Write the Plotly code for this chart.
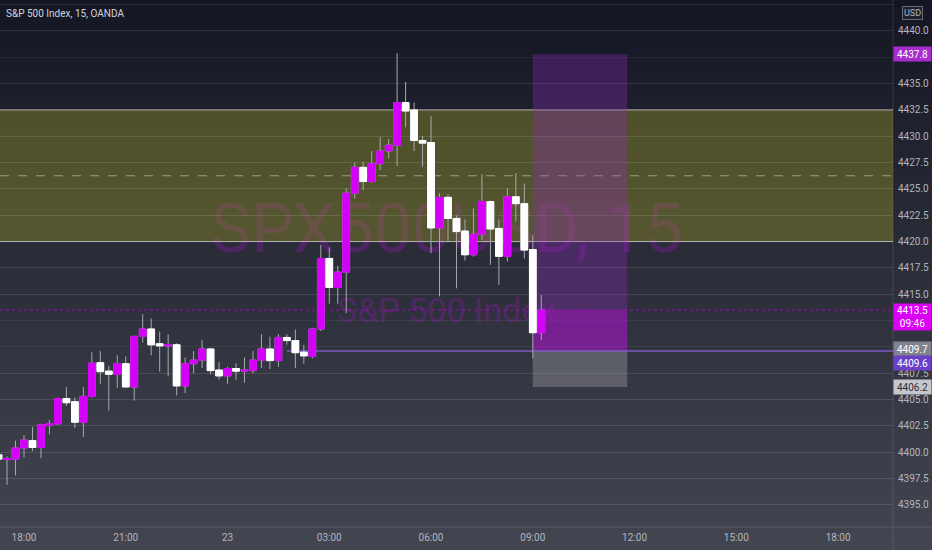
import plotly.graph_objects as go
import pandas as pd

# ---------------- data ----------------
times = pd.date_range("2021-07-22 17:15", periods=65, freq="15min")
opens = [4399.75, 4399.3, 4399.35, 4400.4, 4401.1, 4400.45, 4402.55, 4402.7, 4405.1, 4404.8,
         4402.85, 4405.3, 4408.5, 4407.7, 4407.4, 4408.4, 4406.2, 4411.0, 4411.7, 4410.3,
         4410.1, 4410.2, 4406.3, 4408.4, 4408.75, 4409.8, 4407.8, 4407.25, 4407.95, 4407.7,
         4407.75, 4408.75, 4409.8, 4408.7, 4410.9, 4410.6, 4409.5, 4409.1, 4411.7, 4418.4,
         4415.65, 4417.1, 4424.6, 4427.05, 4425.7, 4427.4, 4428.6, 4429.15, 4433.2, 4432.5,
         4429.6, 4429.4, 4421.3, 4424.2, 4422.2, 4421.0, 4418.75, 4420.7, 4423.8, 4421.25,
         4418.6, 4424.25, 4423.6, 4419.25, 4411.35]
highs = [4400.1, 4399.6, 4401.1, 4401.6, 4402.4, 4402.7, 4403.05, 4405.2, 4406.2, 4405.2,
         4406.2, 4409.5, 4409.6, 4408.2, 4409.2, 4409.1, 4411.05, 4413.1, 4412.7, 4411.45,
         4411.2, 4410.35, 4409.0, 4409.6, 4410.65, 4409.9, 4408.55, 4408.1, 4408.45, 4409.0,
         4409.6, 4411.2, 4410.97, 4411.2, 4411.2, 4411.65, 4410.2, 4411.8, 4419.7, 4419.45,
         4417.7, 4425.06, 4427.5, 4427.6, 4428.6, 4429.9, 4429.74, 4437.9, 4435.16, 4433.2,
         4430.03, 4431.93, 4424.6, 4424.5, 4422.5, 4422.1, 4423.16, 4426.4, 4423.9, 4422.1,
         4425.06, 4426.5, 4425.5, 4420.6, 4414.93]
lows = [4399.1, 4396.9, 4397.8, 4399.5, 4400.1, 4399.45, 4401.7, 4402.6, 4404.4, 4402.3,
        4401.45, 4405.2, 4406.5, 4403.95, 4406.1, 4406.15, 4404.9, 4410.4, 4409.2, 4407.65,
        4407.2, 4405.4, 4405.6, 4407.5, 4408.0, 4407.4, 4406.9, 4406.5, 4406.85, 4406.6,
        4407.5, 4408.0, 4407.9, 4408.1, 4410.2, 4408.0, 4408.4, 4408.9, 4411.5, 4414.1,
        4414.1, 4413.2, 4424.1, 4424.9, 4425.6, 4426.8, 4427.9, 4427.18, 4430.85, 4428.6,
        4427.1, 4418.9, 4414.8, 4420.0, 4415.56, 4418.2, 4418.57, 4420.15, 4417.8, 4415.9,
        4418.1, 4421.9, 4418.4, 4408.9, 4410.66]
closes = [4399.35, 4399.4, 4400.4, 4401.15, 4400.45, 4402.6, 4402.7, 4405.1, 4404.7, 4402.85,
          4405.3, 4408.45, 4407.65, 4407.4, 4408.4, 4406.2, 4411.0, 4411.7, 4410.2, 4410.1,
          4410.2, 4406.3, 4408.4, 4408.75, 4409.8, 4407.75, 4407.25, 4407.95, 4407.7, 4407.8,
          4408.75, 4409.8, 4408.7, 4410.9, 4410.6, 4409.45, 4409.15, 4411.7, 4418.4, 4415.65,
          4417.1, 4424.6, 4427.05, 4425.7, 4427.4, 4428.6, 4429.15, 4433.2, 4432.4, 4429.6,
          4429.35, 4421.3, 4424.2, 4422.2, 4420.95, 4418.75, 4420.7, 4423.8, 4421.2, 4418.6,
          4424.25, 4423.6, 4419.2, 4411.35, 4413.5]

x_tickvals = ["2021-07-22 18:00", "2021-07-22 21:00", "2021-07-23 00:00", "2021-07-23 03:00",
              "2021-07-23 06:00", "2021-07-23 09:00", "2021-07-23 12:00", "2021-07-23 15:00",
              "2021-07-23 18:00"]
x_ticktext = ["18:00", "21:00", "23", "03:00", "06:00", "09:00", "12:00", "15:00", "18:00"]
# price-scale labels that stay visible (the others sit under the price tags)
y_tickvals = [4395.0, 4397.5, 4400.0, 4402.5, 4405.0, 4407.5, 4415.0, 4417.5, 4420.0,
              4422.5, 4425.0, 4427.5, 4430.0, 4432.5, 4435.0, 4440.0, 4442.5]

zone_low, zone_high = 4420.0, 4432.5
zone_mid = 4426.25
pos_start, pos_end = "2021-07-23 09:00", "2021-07-23 11:47"
pos_target, pos_entry, pos_stop = 4437.8, 4409.7, 4406.2
hline_start, hline_end, hline_level = "2021-07-23 01:45", "2021-07-23 19:40", 4409.6
last_price, countdown = 4413.5, "09:46"

title_text = "S&P 500 Index, 15, OANDA"
watermark_big = "SPX500USD, 15"
watermark_small = "S&P 500 Index"

# ---------------- style ----------------
UP = "#d500f9"
DOWN = "#ffffff"
WICK = "#a7a9b0"
FONT = "Roboto, sans-serif"
TXT = "#b2b5be"

body_high = [max(o, c) for o, c in zip(opens, closes)]
body_low = [min(o, c) for o, c in zip(opens, closes)]

fig = go.Figure()
fig.add_trace(go.Candlestick(
    x=times, open=opens, high=highs, low=lows, close=closes,
    increasing=dict(line=dict(color=WICK, width=1), fillcolor=UP),
    decreasing=dict(line=dict(color=WICK, width=1), fillcolor=DOWN),
    whiskerwidth=0, hoverinfo="skip", showlegend=False))
fig.add_trace(go.Candlestick(
    x=times, open=opens, high=body_high, low=body_low, close=closes,
    increasing=dict(line=dict(color=UP, width=1), fillcolor=UP),
    decreasing=dict(line=dict(color=DOWN, width=1), fillcolor=DOWN),
    whiskerwidth=0, showlegend=False))

shapes = []
# background gradient
N = 60
top_c = (20, 23, 35)
bot_c = (67, 69, 80)
y_bot = -23 / 527
for i in range(N):
    f = (i + 0.5) / N
    col = tuple(int(round(top_c[k] + (bot_c[k] - top_c[k]) * f)) for k in range(3))
    y1 = 1 - (1 - y_bot) * i / N
    y0 = 1 - (1 - y_bot) * (i + 1) / N
    shapes.append(dict(type="rect", xref="paper", yref="paper", x0=0, x1=932 / 893,
                       y0=y0 - 0.001, y1=y1 + 0.001, line=dict(width=0),
                       fillcolor="rgb(%d,%d,%d)" % col, layer="below"))

# watermark (behind candles)
shapes.append(dict(type="rect", xref="paper", yref="paper", x0=0.2, x1=0.8, y0=0.5, y1=0.65,
                   line=dict(width=0), fillcolor="rgba(0,0,0,0)", layer="between",
                   label=dict(text=watermark_big, textposition="middle center",
                              font=dict(family=FONT, size=68, color="rgba(175,20,215,0.27)"))))
shapes.append(dict(type="rect", xref="paper", yref="paper", x0=0.3, x1=0.7, y0=0.38, y1=0.45,
                   line=dict(width=0), fillcolor="rgba(0,0,0,0)", layer="between",
                   label=dict(text=watermark_small, textposition="middle center",
                              font=dict(family=FONT, size=34, color="rgba(175,20,215,0.27)"))))

# olive zone
shapes.append(dict(type="rect", xref="paper", yref="y", x0=0, x1=1, y0=zone_low, y1=zone_high,
                   line=dict(width=0), fillcolor="rgba(140,140,40,0.45)", layer="between"))
for lvl in (zone_low, zone_high):
    shapes.append(dict(type="line", xref="paper", yref="y", x0=0, x1=1, y0=lvl, y1=lvl,
                       line=dict(color="rgba(205,205,200,0.75)", width=1), layer="between"))
shapes.append(dict(type="line", xref="paper", yref="y", x0=0, x1=1, y0=zone_mid, y1=zone_mid,
                   line=dict(color="rgba(205,205,200,0.6)", width=1, dash="dash"), layer="between"))

# position box
shapes.append(dict(type="rect", xref="x", yref="y", x0=pos_start, x1=pos_end,
                   y0=pos_entry, y1=pos_target, line=dict(width=0),
                   fillcolor="rgba(150,40,200,0.30)", layer="between"))
shapes.append(dict(type="rect", xref="x", yref="y", x0=pos_start, x1=pos_end,
                   y0=pos_stop, y1=pos_entry, line=dict(width=0),
                   fillcolor="rgba(200,200,210,0.28)", layer="between"))
shapes.append(dict(type="rect", xref="x", yref="y", x0=pos_start, x1=pos_end,
                   y0=pos_entry, y1=last_price, line=dict(width=0),
                   fillcolor="rgba(210,0,240,0.30)", layer="between"))

# horizontal ray
shapes.append(dict(type="line", xref="x", yref="y", x0=hline_start, x1=hline_end,
                   y0=hline_level, y1=hline_level,
                   line=dict(color="#7e57c2", width=1.5), layer="between"))
# last price dotted
shapes.append(dict(type="line", xref="paper", yref="y", x0=0, x1=1, y0=last_price, y1=last_price,
                   line=dict(color="rgba(213,0,249,0.55)", width=1, dash="dot"), layer="between"))

# axis separators
shapes.append(dict(type="line", xref="paper", yref="paper", x0=1, x1=1, y0=y_bot, y1=1,
                   line=dict(color="rgba(255,255,255,0.12)", width=1), layer="above"))
shapes.append(dict(type="line", xref="paper", yref="paper", x0=0, x1=932 / 893, y0=0, y1=0,
                   line=dict(color="rgba(255,255,255,0.12)", width=1), layer="above"))

annotations = []
annotations.append(dict(xref="paper", yref="paper", x=0, y=1, xanchor="left", yanchor="top",
                        xshift=4, yshift=-6, text=title_text, showarrow=False,
                        font=dict(family=FONT, size=10, color="#d1d4dc")))
annotations.append(dict(xref="paper", yref="paper", x=1, y=1, xanchor="left", yanchor="top",
                        xshift=9, yshift=-6, text="USD", showarrow=False, bgcolor="#1e2230",
                        bordercolor="rgba(255,255,255,0.35)", borderwidth=1, borderpad=1,
                        font=dict(family=FONT, size=9, color=TXT)))


def plabel(price, text, bg, fg, yanchor="middle", yshift=0, h=12):
    annotations.append(dict(xref="paper", yref="y", x=1, y=price, xanchor="left",
                            yanchor=yanchor, yshift=yshift, xshift=0, text=text,
                            showarrow=False, bgcolor=bg, borderpad=1, width=35, height=h,
                            align="center", font=dict(family=FONT, size=10, color=fg)))


plabel(pos_target, "%.1f" % pos_target, "#a82ccc", "#ffffff")
plabel(last_price, "%.1f<br>%s" % (last_price, countdown), "#dc00f5", "#ffffff",
       yanchor="top", yshift=7, h=24)
plabel(pos_entry, "%.1f" % pos_entry, "#80838e", "#ffffff", yshift=1)
plabel(hline_level, "%.1f" % hline_level, "#6a40c8", "#ffffff", yshift=-12)
plabel(pos_stop, "%.1f" % pos_stop, "#c6c7cd", "#2a2e39")

fig.update_layout(
    width=932, height=550,
    margin=dict(l=0, r=39, t=0, b=23),
    paper_bgcolor="rgb(67,69,80)", plot_bgcolor="rgba(0,0,0,0)",
    shapes=shapes, annotations=annotations,
    showlegend=False, boxmode="overlay", boxgap=0.12, boxgroupgap=0.1,
    hovermode=False,
    xaxis=dict(range=["2021-07-22 17:17:33", "2021-07-23 19:37:09"], rangeslider=dict(visible=False),
               showgrid=False, zeroline=False, showline=False, ticks="",
               tickvals=x_tickvals, ticktext=x_ticktext, ticklabelstandoff=3,
               tickfont=dict(family=FONT, size=10, color=TXT)),
    yaxis=dict(range=[4392.9, 4442.94], side="right", tickmode="array", tickvals=y_tickvals,
               tickformat=".1f",
               showgrid=True, gridcolor="rgba(255,255,255,0.06)", gridwidth=1,
               minor=dict(dtick=2.5, tick0=4395, showgrid=True,
                          gridcolor="rgba(255,255,255,0.06)", gridwidth=1),
               zeroline=False, showline=False, ticks="", ticklabelstandoff=4,
               tickfont=dict(family=FONT, size=10, color=TXT)),
)

fig.write_html("out.html", config={"displayModeBar": False},
               post_script="document.body.style.margin='0';document.body.style.overflow='hidden';")
